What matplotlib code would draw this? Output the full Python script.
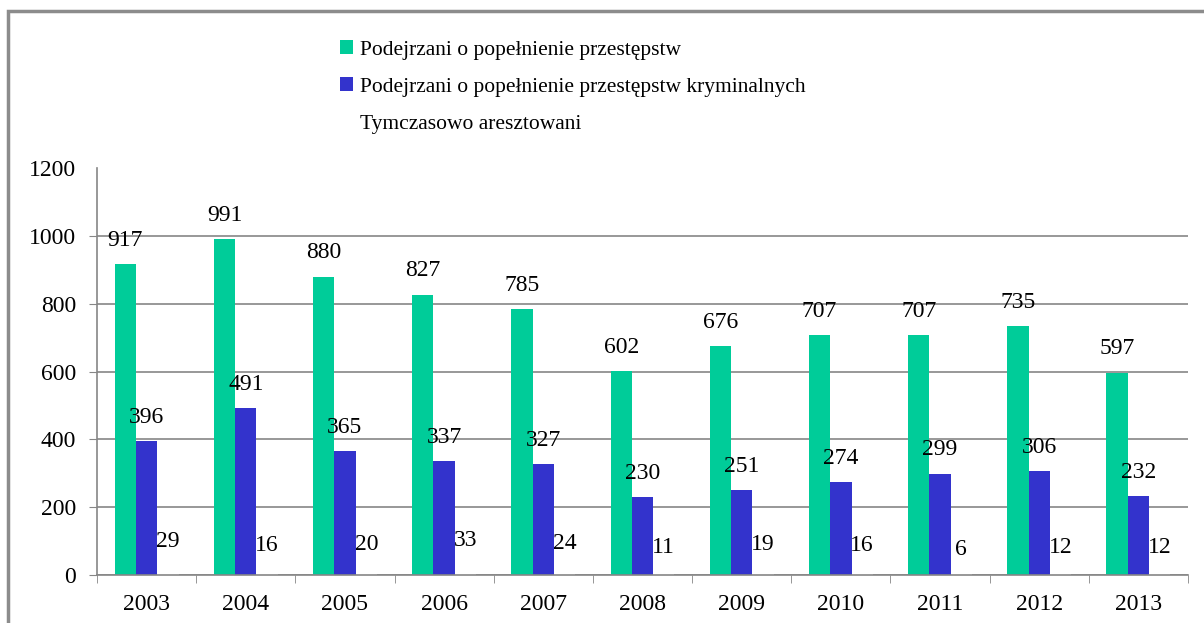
import numpy as np
import matplotlib
matplotlib.use("Agg")
import matplotlib.pyplot as plt
from matplotlib.patches import Patch, Rectangle

plt.rcParams['font.family'] = ['Liberation Serif', 'DejaVu Serif']

# dane
lata = ["2003", "2004", "2005", "2006", "2007", "2008", "2009", "2010", "2011", "2012", "2013"]
przestepstwa = [917, 991, 880, 827, 785, 602, 676, 707, 707, 735, 597]
kryminalne = [396, 491, 365, 337, 327, 230, 251, 274, 299, 306, 232]
areszt = [29, 16, 20, 33, 24, 11, 19, 16, 6, 12, 12]
etykiety = ["Podejrzani o popełnienie przestępstw",
            "Podejrzani o popełnienie przestępstw kryminalnych",
            "Tymczasowo aresztowani"]
kolory = ["#00CC99", "#3333CC", "white"]

fig = plt.figure(figsize=(12.04, 6.23), dpi=100)
ax = fig.add_axes([97/1204, 1 - 575/623, (1188 - 97)/1204, (575 - 168)/623])
ax.set_axisbelow(True)

x = np.arange(len(lata))
w = 0.215
serie = [przestepstwa, kryminalne, areszt]
for i, (vals, kol) in enumerate(zip(serie, kolory)):
    pos = x + (i - 1) * w
    ax.bar(pos, vals, width=w, color=kol, zorder=2)
    for px, v in zip(pos, vals):
        ax.annotate(str(v), (px, v), xytext=(0, 17), textcoords="offset points",
                    ha="center", va="center", fontsize=17, zorder=4)

ax.set_xlim(-0.5, len(lata) - 0.5)
ax.set_ylim(0, 1200)
ax.set_yticks(range(0, 1201, 200))
ax.tick_params(axis="y", labelsize=17, length=6, color="#868686", pad=9)
ax.set_xticks(x)
ax.set_xticklabels(lata)
ax.set_xticks(np.arange(-0.5, len(lata)), minor=True)
ax.tick_params(axis="x", which="major", length=0, labelsize=17, pad=14)
ax.tick_params(axis="x", which="minor", length=6, color="#868686")

ax.yaxis.grid(True, color="#868686", linewidth=1.2)
ax.get_ygridlines()[-1].set_visible(False)
ax.get_yticklines()[-2].set_visible(False)
for s in ["top", "right"]:
    ax.spines[s].set_visible(False)
for s in ["left", "bottom"]:
    ax.spines[s].set_color("#868686")
    ax.spines[s].set_linewidth(1.2)
    ax.spines[s].set_zorder(3)

uchwyty = [Patch(facecolor=k, edgecolor="none") for k in kolory]
fig.legend(uchwyty, etykiety, loc="upper left", bbox_to_anchor=(321/1204, 1 - 21/623),
           frameon=False, fontsize=15.5, handlelength=0.6, handleheight=0.6,
           handletextpad=0.3, labelspacing=0.82)

# ramka wykresu
fig.patches.append(Rectangle((8/1204, -0.2), 1.5, 1 - 11/623 + 0.2, transform=fig.transFigure,
                             fill=False, edgecolor="#8C8C8C", linewidth=2.5))

fig.savefig("out.png", dpi=100)
